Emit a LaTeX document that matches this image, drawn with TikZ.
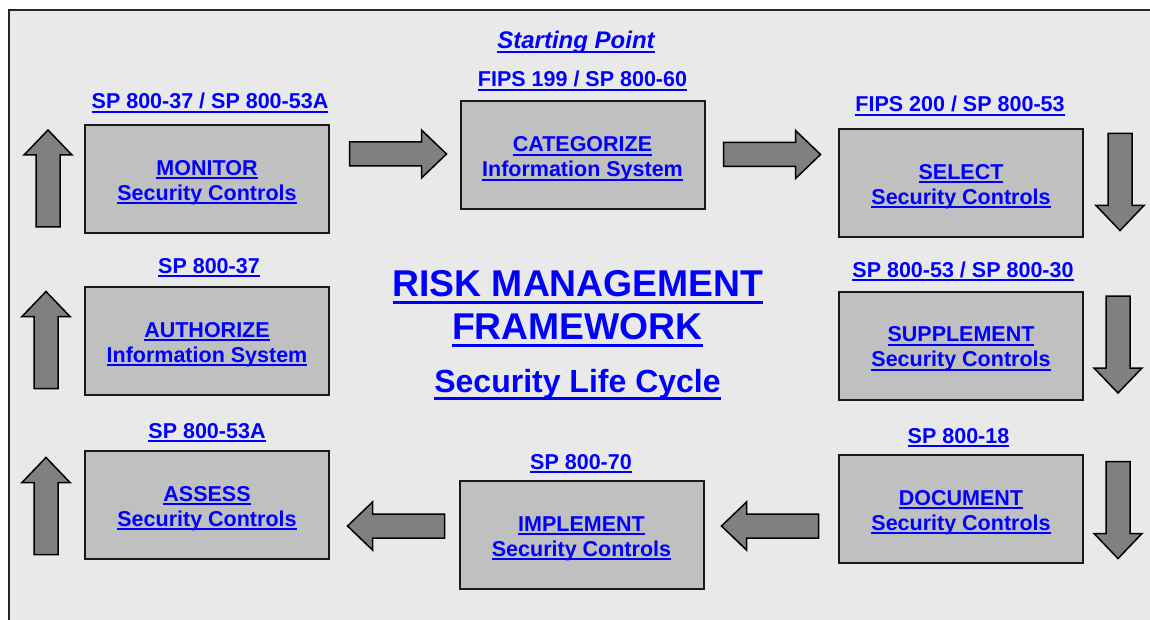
\documentclass[tikz,border=0pt]{standalone}
\usepackage{fontspec}
\setmainfont{Liberation Sans}
\definecolor{bgc}{HTML}{E9E9E9}
\definecolor{boxc}{HTML}{C0C0C0}
\definecolor{arrc}{HTML}{808080}
\definecolor{txtc}{HTML}{0000FF}
\newcommand\myul[3]{\setbox0\hbox{#3}\rlap{\rule[-#1]{\wd0}{#2}}\box0}
\newcommand\smu[1]{\myul{3.8pt}{2pt}{#1}}
\newcommand\bgu[1]{\myul{8pt}{3pt}{#1}}
\newcommand\topstrut{\rule{0pt}{22pt}}
\tikzset{
  stagebox/.style={draw=black!90, line width=2pt, fill=boxc, minimum width=244pt,
    minimum height=108pt, inner sep=0pt, align=center, text=txtc,
    font=\fontsize{21.5}{25}\selectfont\bfseries},
  reflabel/.style={anchor=base, inner sep=0pt, text=txtc,
    font=\fontsize{21.5}{25}\selectfont\bfseries},
  titlelabel/.style={anchor=base, inner sep=0pt, text=txtc},
  arrowfill/.style={draw=black, line width=1.5pt, fill=arrc, line join=miter},
  blockarrow/.pic={\draw[arrowfill] (-48.5,-12) -- (23.5,-12) -- (23.5,-24) -- (48.5,0)
     -- (23.5,24) -- (23.5,12) -- (-48.5,12) -- cycle;}
}
\begin{document}
\begin{tikzpicture}[x=1pt,y=-1pt]
\useasboundingbox (0,0) rectangle (1150,620);
\fill[white] (0,0) rectangle (1150,620);
\begin{scope}
\clip (0,0) rectangle (1150,620);
\fill[bgc] (9,10) rectangle (1170,640);
\draw[line width=2pt, black!85] (9,640) -- (9,10) -- (1170,10);
\end{scope}

% stage boxes
\node[stagebox] (m)  at (207,179)   {\topstrut\smu{MONITOR}\\\smu{Security Controls}};
\node[stagebox] (c)  at (582.5,155.5) {\topstrut\smu{CATEGORIZE}\\\smu{Information System}};
\node[stagebox] (s)  at (961,183)   {\topstrut\smu{SELECT}\\\smu{Security Controls}};
\node[stagebox] (a)  at (207,341)   {\topstrut\smu{AUTHORIZE}\\\smu{Information System}};
\node[stagebox] (sp) at (961,345.5) {\topstrut\smu{SUPPLEMENT}\\\smu{Security Controls}};
\node[stagebox] (as) at (207,505)   {\topstrut\smu{ASSESS}\\\smu{Security Controls}};
\node[stagebox] (im) at (581.5,535) {\topstrut\smu{IMPLEMENT}\\\smu{Security Controls}};
\node[stagebox] (d)  at (961,509)   {\topstrut\smu{DOCUMENT}\\\smu{Security Controls}};

% reference labels
\node[titlelabel, font=\fontsize{24}{26}\selectfont\bfseries\itshape] (start) at (576,49) {\smu{Starting Point}};
\node[reflabel] (lc)  at (582.5,87) {\smu{FIPS 199 / SP 800-60}};
\node[reflabel] (lm)  at (210,109)  {\smu{SP 800-37 / SP 800-53A}};
\node[reflabel] (ls)  at (960,112)  {\smu{FIPS 200 / SP 800-53}};
\node[reflabel] (la)  at (209,273)  {\smu{SP 800-37}};
\node[reflabel] (lsp) at (963,277)  {\smu{SP 800-53 / SP 800-30}};
\node[reflabel] (las) at (207,438)  {\smu{SP 800-53A}};
\node[reflabel] (ld)  at (958.5,443) {\smu{SP 800-18}};
\node[reflabel] (lim) at (581,469)  {\smu{SP 800-70}};

% centre title
\node[titlelabel, font=\fontsize{37.3}{40}\selectfont\bfseries] (t1) at (578,296) {\bgu{RISK MANAGEMENT}};
\node[titlelabel, font=\fontsize{37.3}{40}\selectfont\bfseries] (t2) at (577.5,339) {\bgu{FRAMEWORK}};
\node[titlelabel, font=\fontsize{32}{34}\selectfont\bfseries] (t3) at (577.5,392) {\bgu{Security Life Cycle}};

% block arrows
\pic at (398,154) {blockarrow};
\pic at (772,154.5) {blockarrow};
\pic[rotate=-90] at (1120,182) {blockarrow};
\pic[rotate=-90] at (1118,344.5) {blockarrow};
\pic[rotate=-90] at (1118,510) {blockarrow};
\pic[rotate=180] at (770,526) {blockarrow};
\pic[rotate=180] at (396,526) {blockarrow};
\pic[rotate=90] at (48,178.5) {blockarrow};
\pic[rotate=90] at (46,340) {blockarrow};
\pic[rotate=90] at (46,506) {blockarrow};
\end{tikzpicture}
\end{document}
